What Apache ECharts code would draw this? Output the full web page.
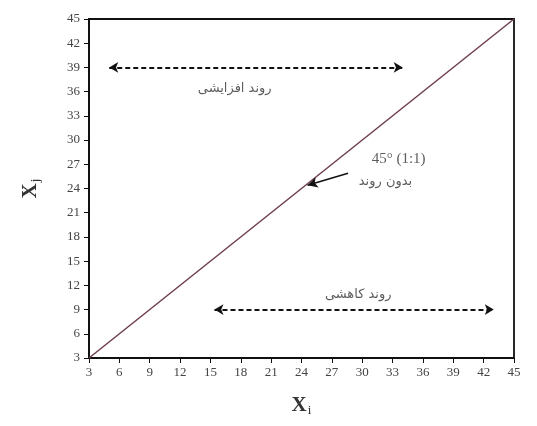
<!DOCTYPE html>
<html>
<head>
<meta charset="utf-8">
<script src="https://cdn.jsdelivr.net/npm/echarts@6/dist/echarts.min.js"></script>
<style>
  html, body { margin: 0; padding: 0; background: #fff; }
  #chart { width: 537px; height: 426px; }
</style>
</head>
<body>
<div id="chart"></div>
<script>
// 1:1 line
const diagonal = [[3, 3], [45, 45]]

// trend arrows (double headed, dashed)
const upArrow = [[5, 39], [34, 39]]
const downArrow = [[15.4, 9], [43, 9]]
// pointer to the 1:1 line
const pointer = [[28.6, 25.9], [24.6, 24.4]]

// text notes: [x, y, text]
const notes = [
  [17.4, 36.4, 'روند افزایشی'],
  [29.6, 10.9, 'روند کاهشی'],
  [32.3, 24.9, 'بدون روند']
]
const slopeNote = [[33.6, 27.6, '45° (1:1)']]

const serif = 'Liberation Serif'

const chart = echarts.init(document.getElementById('chart'))

const arrowLine = (pts, opts) => Object.assign({
  silent: true,
  symbol: ['arrow', 'arrow'],
  symbolSize: [8, 9],
  label: { show: false },
  lineStyle: { color: '#111', type: [5, 3], width: 2 },
  data: [[{ coord: pts[0] }, { coord: pts[1] }]]
}, opts)

const axisName = sub => ({
  name: '{x|X}{s|' + sub + '}',
  nameLocation: 'middle',
  nameTextStyle: {
    rich: {
      x: { fontFamily: serif, fontSize: 21, fontWeight: 'bold', color: '#333' },
      s: { fontFamily: serif, fontSize: 13, color: '#333', padding: [10, 0, 0, 1] }
    }
  }
})

const textSeries = (data, font, size) => ({
  type: 'scatter',
  data: data,
  symbolSize: 0,
  silent: true,
  label: {
    show: true,
    position: 'inside',
    formatter: p => p.data[2],
    fontFamily: font,
    fontSize: size,
    color: '#333'
  },
  labelLayout: { hideOverlap: false }
})

const option = {
  animation: false,
  grid: {
    left: 89, right: 23, top: 19, bottom: 68,
    show: true, borderColor: '#111', borderWidth: 1.8
  },
  xAxis: Object.assign({
    type: 'value', min: 3, max: 45, interval: 3,
    nameGap: 36,
    axisLine: { lineStyle: { color: '#111', width: 1.8 } },
    axisTick: { length: 5, lineStyle: { color: '#111' } },
    axisLabel: { fontFamily: serif, fontSize: 13, color: '#444', margin: 8 },
    splitLine: { show: false }
  }, axisName('i')),
  yAxis: Object.assign({
    type: 'value', min: 3, max: 45, interval: 3,
    nameGap: 47, nameRotate: 90,
    axisLine: { lineStyle: { color: '#111', width: 1.8 } },
    axisTick: { length: 5, lineStyle: { color: '#111' } },
    axisLabel: { fontFamily: serif, fontSize: 13, color: '#444', margin: 9 },
    splitLine: { show: false }
  }, axisName('j')),
  series: [
    {
      type: 'line',
      data: diagonal,
      symbol: 'none',
      lineStyle: { color: '#6e3f4c', width: 1.5 },
      markLine: arrowLine(upArrow)
    },
    {
      type: 'line',
      data: [],
      markLine: arrowLine(downArrow)
    },
    {
      type: 'line',
      data: [],
      markLine: arrowLine(pointer, {
        symbol: ['none', 'arrow'],
        symbolSize: [8, 10],
        lineStyle: { color: '#111', type: 'solid', width: 1.5, curveness: 0.15 }
      })
    },
    textSeries(notes, 'DejaVu Sans', 13),
    textSeries(slopeNote, serif, 15)
  ]
}

chart.setOption(option)
</script>
</body>
</html>
